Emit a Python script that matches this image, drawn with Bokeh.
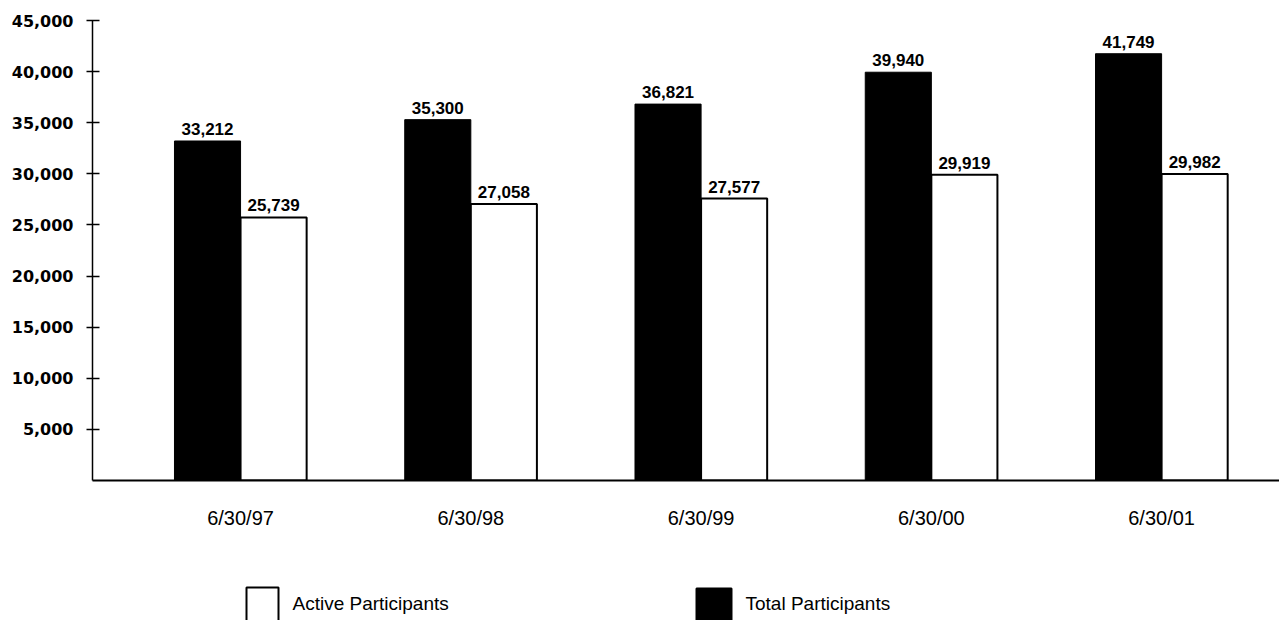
from bokeh.plotting import figure
from bokeh.models import FixedTicker, NumeralTickFormatter, ColumnDataSource, Range1d
from bokeh.layouts import column
from bokeh.transform import dodge
from bokeh.core.properties import value
from bokeh.embed import file_html
from bokeh.resources import INLINE

# ---- data ----
categories = ["6/30/97", "6/30/98", "6/30/99", "6/30/00", "6/30/01"]
total_participants = [33212, 35300, 36821, 39940, 41749]
active_participants = [25739, 27058, 27577, 29919, 29982]
y_tick_values = [5000, 10000, 15000, 20000, 25000, 30000, 35000, 40000, 45000]
legend_labels = ["Active Participants", "Total Participants"]

idx = list(range(len(categories)))
src = ColumnDataSource(dict(
    x=idx,
    total=total_participants,
    active=active_participants,
    total_lbl=[f"{v:,}" for v in total_participants],
    active_lbl=[f"{v:,}" for v in active_participants],
))

p = figure(width=1279, height=560,
           x_range=Range1d(-0.643, 4.512), y_range=Range1d(0, 45000),
           output_backend="svg", toolbar_location=None,
           min_border_left=92, min_border_right=0, min_border_top=20, min_border_bottom=80)
p.outline_line_color = None
p.xgrid.grid_line_color = None
p.ygrid.grid_line_color = None
p.background_fill_color = "white"
p.border_fill_color = "white"

bw = 0.287
p.vbar(x=dodge("x", -bw / 2, range=p.x_range), top="total", width=bw, bottom=0,
       source=src, fill_color="black", line_color="black", line_width=1)
p.vbar(x=dodge("x", bw / 2, range=p.x_range), top="active", width=bw, bottom=0,
       source=src, fill_color="white", line_color="black", line_width=2)

lbl_font = value("Liberation Sans")
p.text(x=dodge("x", -bw / 2, range=p.x_range), y="total", text="total_lbl", source=src,
       text_align="center", text_baseline="alphabetic", y_offset=-12,
       text_font=lbl_font, text_font_style="bold", text_font_size="17px", text_color="black")
p.text(x=dodge("x", bw / 2, range=p.x_range), y="active", text="active_lbl", source=src,
       text_align="center", text_baseline="alphabetic", y_offset=-12,
       text_font=lbl_font, text_font_style="bold", text_font_size="17px", text_color="black")

# x axis
xa = p.xaxis[0]
xa.ticker = FixedTicker(ticks=idx)
xa.major_label_overrides = {i: c for i, c in zip(idx, categories)}
xa.major_tick_line_color = None
xa.minor_tick_line_color = None
xa.axis_line_width = 2
xa.axis_line_color = "black"
xa.major_label_standoff = 20
xa.major_label_text_font = "Liberation Sans"
xa.major_label_text_font_size = "20px"
xa.major_label_text_color = "black"

# y axis
ya = p.yaxis[0]
ya.ticker = FixedTicker(ticks=y_tick_values)
ya.formatter = NumeralTickFormatter(format="0,0")
ya.minor_tick_line_color = None
ya.major_tick_in = 7
ya.major_tick_out = 6
ya.axis_line_width = 1.5
ya.major_tick_line_width = 1.5
ya.major_label_standoff = 13
ya.major_label_text_font = "DejaVu Sans"
ya.major_label_text_font_style = "bold"
ya.major_label_text_font_size = "16px"
ya.major_label_text_color = "black"

# ---- legend strip (its frame is aligned with the main frame: x 92..1279 px) ----
lp = figure(width=1279, height=60, x_range=Range1d(92, 1279), y_range=Range1d(60, 0),
            output_backend="svg", toolbar_location=None,
            x_axis_type=None, y_axis_type=None,
            min_border_left=92, min_border_right=0, min_border_top=0, min_border_bottom=0)
lp.outline_line_color = None
lp.xgrid.grid_line_color = None
lp.ygrid.grid_line_color = None

box_left = [246, 696]
box_w = [32, 35]
box_top = [27, 28]
fills = ["white", "black"]
lsrc = ColumnDataSource(dict(
    left=box_left, right=[l + w for l, w in zip(box_left, box_w)],
    top=box_top, bottom=[75, 75], fill=fills,
    tx=[292, 745], ty=[43, 43], label=legend_labels,
))
lp.quad(left="left", right="right", top="top", bottom="bottom", source=lsrc,
        fill_color="fill", line_color="black", line_width=2)
lp.text(x="tx", y="ty", text="label", source=lsrc, text_align="left", text_baseline="middle",
        text_font=value("Liberation Sans"), text_font_size="19px", text_color="black")

layout = column(p, lp, spacing=0)
open("out.html", "w").write(file_html(layout, INLINE))
